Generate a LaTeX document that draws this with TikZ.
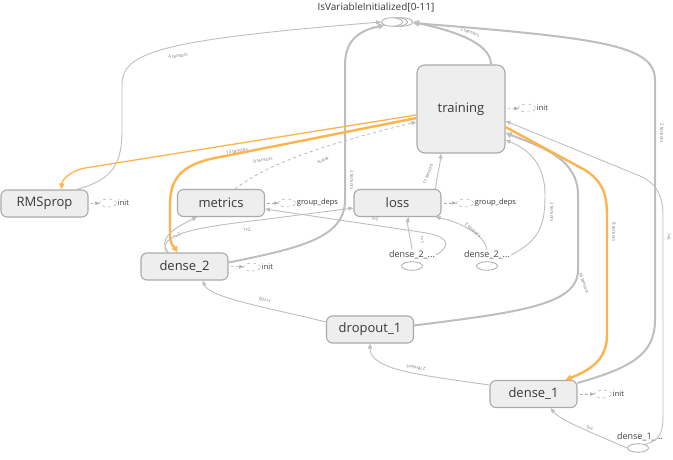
\documentclass[tikz,border=0pt]{standalone}
\usepackage{fontspec}
\setmainfont{Open Sans}
\usetikzlibrary{positioning, arrows.meta, shapes.geometric}
\definecolor{tforange}{RGB}{255,179,77}
\definecolor{edgegray}{RGB}{190,190,190}
\definecolor{boxfill}{RGB}{238,238,238}
\definecolor{boxline}{RGB}{170,170,170}

\begin{document}
\begin{tikzpicture}[
    x=1pt, y=-1pt,
    opnode/.style={
        draw=boxline, fill=boxfill, line width=1.1pt, rounded corners=6pt,
        minimum width=87pt, minimum height=27pt,
        font=\fontsize{13}{15}\selectfont, text=black!78
    },
    auxnode/.style={
        ellipse, draw=boxline, dashed, line width=0.5pt,
        minimum width=17pt, minimum height=8pt, inner sep=0pt
    },
    auxtext/.style={font=\fontsize{7.5}{9}\selectfont, text=black!80, anchor=west, inner sep=1pt},
    constnode/.style={
        ellipse, draw=boxline, fill=white, line width=0.8pt,
        minimum width=21pt, minimum height=8.5pt, inner sep=0pt
    },
    consttext/.style={font=\fontsize{9}{10}\selectfont, text=black!75, inner sep=1pt},
    lbl/.style={font=\fontsize{4.5}{5}\selectfont, text=black!55, inner sep=0.5pt},
    edge/.style={draw=edgegray, line width=0.9pt, -{Triangle[length=5pt, width=4pt]}},
    thickedge/.style={draw=edgegray, line width=2pt, -{Triangle[length=6pt, width=6pt]}},
    dashedge/.style={draw=edgegray, line width=0.9pt, dashed, -{Triangle[length=5pt, width=4pt]}},
    auxedge/.style={draw=boxline, line width=0.5pt, densely dashed, -{Triangle[length=4pt, width=3.5pt]}},
    orangeedge/.style={draw=tforange, line width=1.3pt, -{Triangle[length=6pt, width=5pt]}},
    orangethick/.style={draw=tforange, line width=2.4pt, -{Triangle[length=6pt, width=6pt]}}
]
\useasboundingbox (0,0) rectangle (673,460);

% IsVariableInitialized group
\node[constnode] (isvarc) at (402,22) {};
\node[constnode] (isvarb) at (397,22) {};
\node[constnode] (isvar) at (392,22) {};
\node[font=\fontsize{10}{12}\selectfont, text=black!78] (isvarlabel) at (376,7) {IsVariableInitialized[0-11]};

% Main ops
\node[opnode, minimum width=88pt, minimum height=88pt, rounded corners=8pt] (training) at (461,109) {training};
\node[opnode] (rmsprop) at (44.5,203.5) {RMSprop};
\node[opnode] (metrics) at (221,203) {metrics};
\node[opnode] (loss) at (397.5,203) {loss};
\node[opnode] (dense2) at (184.5,266.5) {dense\_2};
\node[opnode] (dropout) at (370,329.5) {dropout\_1};
\node[opnode] (dense1) at (533.5,394) {dense\_1};

% Constants
\node[constnode] (dtwoa) at (412,266) {};
\node[consttext] (dtwoalabel) at (412,255) {dense\_2\_...};
\node[constnode] (dtwob) at (487,266) {};
\node[consttext] (dtwoblabel) at (487,255) {dense\_2\_...};
\node[constnode] (doneb) at (638,448) {};
\node[consttext] (donelabel) at (640,437) {dense\_1\_...};

% Aux nodes
\node[auxnode] (traininit) at (527,108) {};
\node[auxtext] (traininittext) at (traininit.east) {init};
\node[auxnode] (rmsinit) at (108,203) {};
\node[auxtext] (rmsinittext) at (rmsinit.east) {init};
\node[auxnode] (metricsdeps) at (287,203) {};
\node[auxtext] (metricsdepstext) at (metricsdeps.east) {group\_deps};
\node[auxnode] (lossdeps) at (465,203) {};
\node[auxtext] (lossdepstext) at (lossdeps.east) {group\_deps};
\node[auxnode] (dtwoinit) at (252,267) {};
\node[auxtext] (dtwoinittext) at (dtwoinit.east) {init};
\node[auxnode] (doneinit) at (603,394) {};
\node[auxtext] (doneinittext) at (doneinit.east) {init};

\draw[auxedge] ([xshift=2pt]training.east) -- (traininit);
\draw[auxedge] ([xshift=2pt]rmsprop.east) -- (rmsinit);
\draw[auxedge] ([xshift=2pt]metrics.east) -- (metricsdeps);
\draw[auxedge] ([xshift=2pt]loss.east) -- (lossdeps);
\draw[auxedge] ([xshift=2pt]dense2.east) -- (dtwoinit);
\draw[auxedge] ([xshift=2pt]dense1.east) -- (doneinit);

% Edges into IsVariableInitialized
\draw[edge] ([xshift=32pt]rmsprop.north) .. controls (112,180) and (122,165) .. (122,130)
    -- (122,85) .. controls (122,52) and (160,40) .. (isvar.west);
\node[lbl, rotate=8] (lrms) at (178,56) {4 tensors};

\draw[thickedge] ([yshift=4pt]dense2.east) .. controls (300,248) and (345,238) .. (345,200)
    -- (345,65) .. controls (345,38) and (362,30) .. (isvar.south west);
\node[lbl, rotate=-90] (ldtwo) at (352,180) {2 tensors};

\draw[thickedge] ([xshift=30pt]training.north) .. controls (491,42) and (450,30) .. (isvarc.east);
\node[lbl, rotate=-20] (ltrain) at (470,32) {2 tensors};

\draw[thickedge] ([yshift=-3pt]dense1.north east) .. controls (630,368) and (655,355) .. (655,320)
    -- (655,80) .. controls (655,45) and (600,38) .. ([yshift=-1pt]isvarc.east);
\node[lbl, rotate=-90] (ldone) at (662,133) {2 tensors};

% Edges into training
\draw[edge] ([xshift=38pt]loss.north) .. controls (437,175) and (440,165) .. ([xshift=-20pt]training.south);
\node[lbl, rotate=70] (lloss) at (428,174) {11 tensors};

\draw[dashedge] ([xshift=14pt]metrics.north) .. controls (260,170) and (300,150) .. ([yshift=-13pt]training.west);
\node[lbl, rotate=21] (lmetrics) at (323,160) {scalar};

\draw[thickedge] ([yshift=4pt]dropout.east) .. controls (520,312) and (578,305) .. (578,270)
    -- (578,195) .. controls (578,160) and (545,148) .. ([yshift=-24pt]training.east);
\node[lbl, rotate=-70] (ldrop) at (584,283) {16 tensors};

\draw[edge] (dtwoblabel.east) .. controls (540,240) and (545,225) .. (545,195)
    .. controls (545,165) and (530,150) .. ([yshift=-31pt]training.east);
\node[lbl, rotate=-90] (ldtwob) at (552,212) {2 tensors};

\draw[edge] ([xshift=-2pt]doneb.north east) .. controls (663,440) and (663,430) .. (663,410)
    -- (663,215) .. controls (663,195) and (655,182) .. (640,176) -- ([yshift=-12pt]training.east);
\node[lbl, rotate=-90] (ldoneb) at (669,237) {?×6};

% Orange edges out of training
\draw[orangethick] ([yshift=-18pt]training.east) -- (585,170) .. controls (600,180) and (607,190) .. (607,215)
    -- (607,335) .. controls (607,360) and (590,370) .. ([xshift=32pt]dense1.north);
\node[lbl, rotate=-90] (lorone) at (614,232) {8 tensors};

\draw[orangeedge] ([yshift=-6pt]training.west) -- (85,168) .. controls (70,171) and (62,180) .. ([xshift=17pt]rmsprop.north);
\node[lbl, rotate=9] (lortwo) at (237,151) {13 tensors};

\draw[orangethick] ([yshift=-9pt]training.west) -- (215,158) .. controls (180,165) and (170,180) .. (170,205)
    -- (170,235) .. controls (170,245) and (175,248) .. ([xshift=-7pt]dense2.north);
\node[lbl, rotate=10] (lorthree) at (263,160) {9 tensors};

% Edges into metrics and loss
\draw[edge] ([xshift=-16pt]dense2.north) .. controls (158,240) and (170,230) .. ([xshift=-24pt]metrics.south);
\node[lbl, rotate=30] (lmone) at (177,236) {?×2};

\draw[edge] ([xshift=-18pt]dense2.north) .. controls (158,235) and (190,228) .. (260,220) -- ([yshift=-5pt]loss.west);
\node[lbl, rotate=5] (lmtwo) at (247,230) {?×2};

\draw[edge] (dtwoalabel.east) .. controls (452,245) and (450,236) .. (420,232) -- ([yshift=-6pt]metrics.east);
\node[lbl, rotate=-9] (lmthree) at (375,219) {?×2};

\draw[edge] (dtwoalabel.north) .. controls (410,235) and (407,225) .. ([xshift=11pt]loss.south);
\node[lbl, rotate=-80] (llone) at (422,240) {?×1};

\draw[edge] (dtwoblabel.north) .. controls (485,235) and (460,222) .. ([xshift=38pt]loss.south);
\node[lbl, rotate=-40] (lltwo) at (473,230) {2 tensors};

% Lower chain
\draw[edge] ([yshift=7.5pt]dropout.west) .. controls (270,308) and (210,298) .. ([xshift=18pt]dense2.south);
\node[lbl, rotate=166] (ldrtwo) at (265,300) {?×100};

\draw[edge] ([yshift=9pt]dense1.west) .. controls (420,375) and (370,370) .. (dropout.south);
\node[lbl, rotate=171] (ldrone) at (416,368) {2 tensors};

\draw[edge] (doneb.west) .. controls (590,432) and (560,420) .. ([xshift=17pt]dense1.south);
\node[lbl, rotate=160] (ldin) at (590,428) {?×6};

\end{tikzpicture}
\end{document}
